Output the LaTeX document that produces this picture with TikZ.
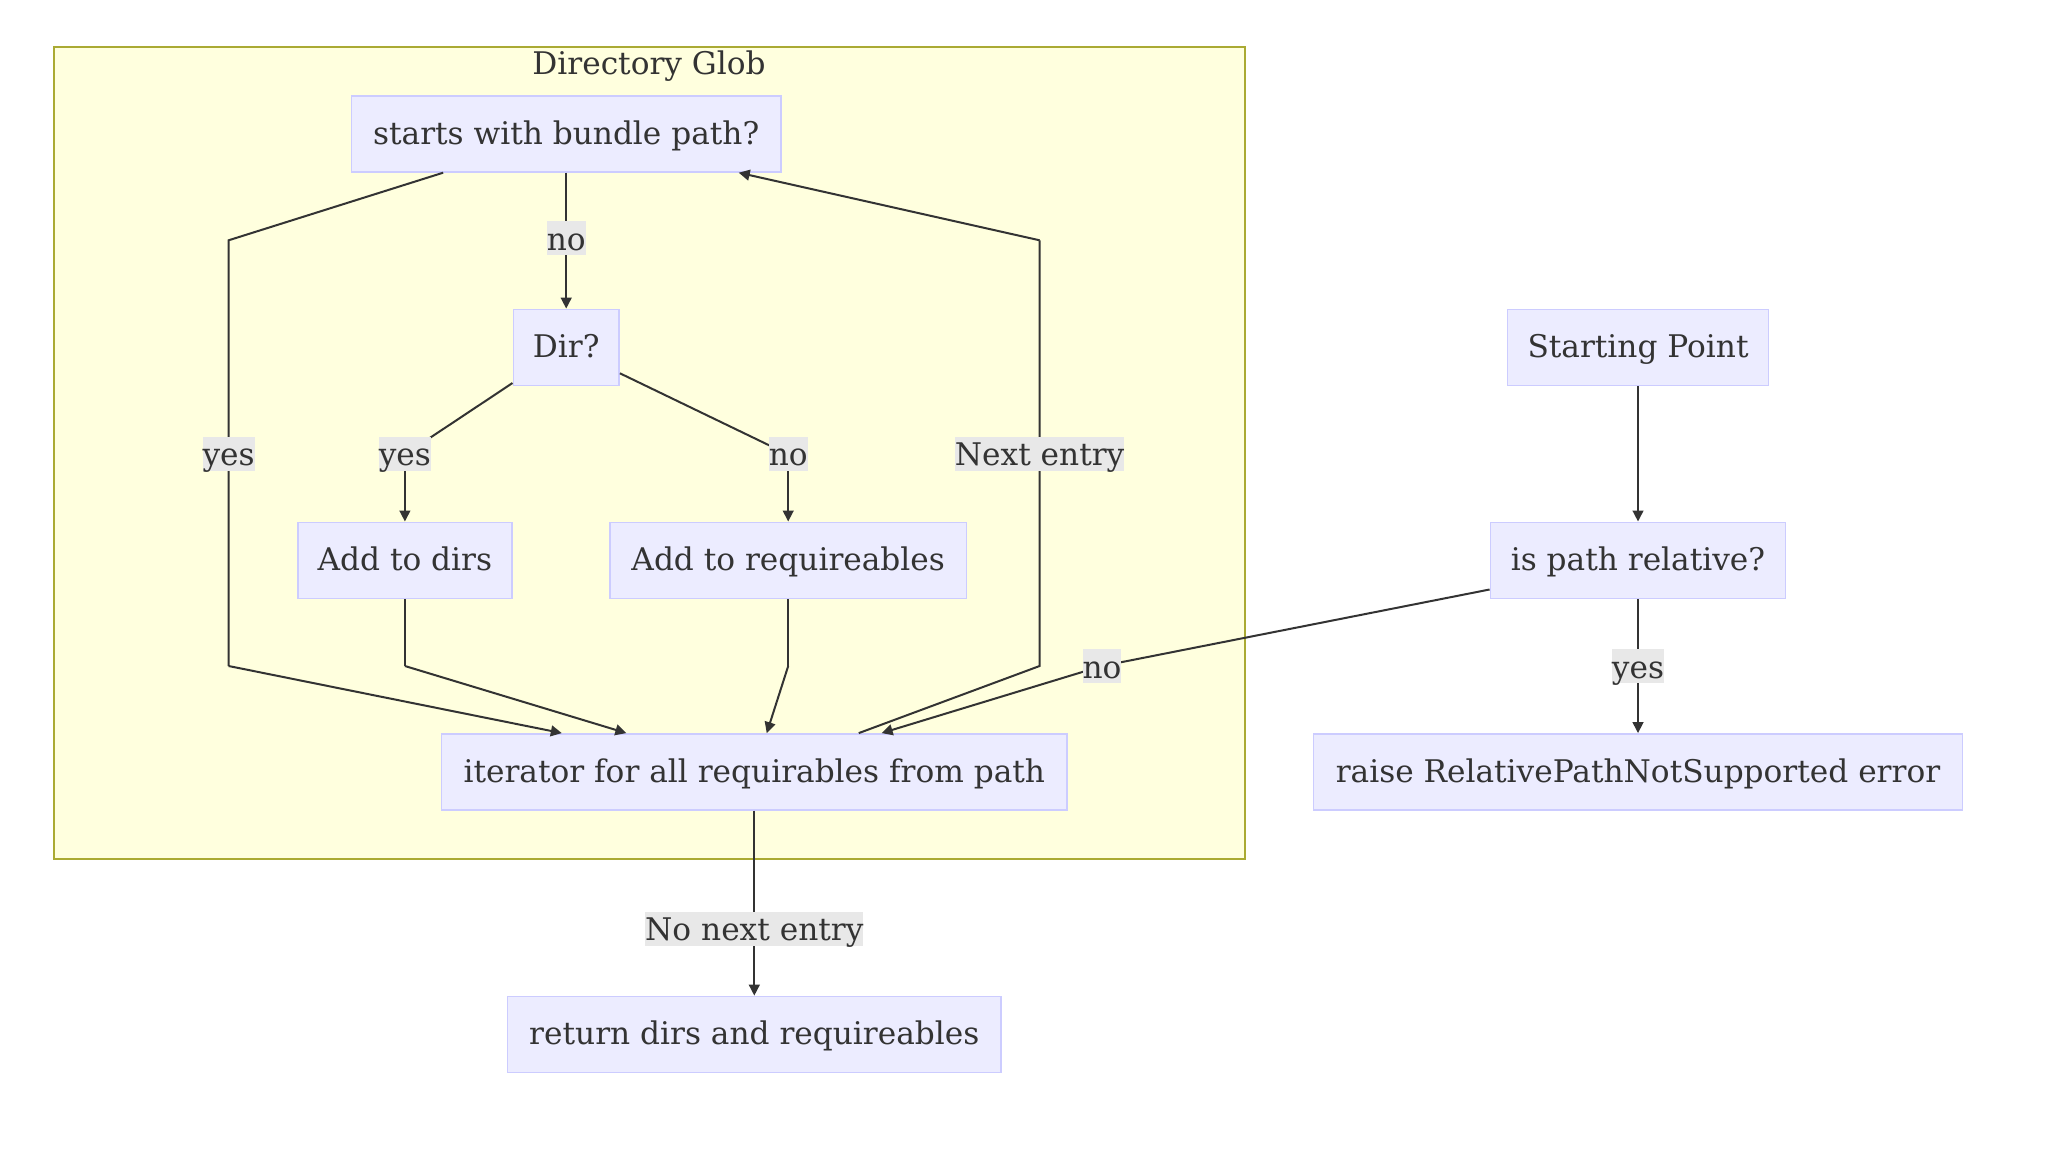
\documentclass[tikz,border=0pt]{standalone}
\usepackage{fontspec}
\setmainfont{DejaVu Serif}
\usetikzlibrary{arrows.meta}
\definecolor{nodefill}{HTML}{ECECFF}
\definecolor{nodeline}{HTML}{CCCCFF}
\definecolor{clusterfill}{HTML}{FFFFDE}
\definecolor{clusterline}{HTML}{AAAA33}
\definecolor{labelfill}{HTML}{E8E8E8}
\definecolor{txt}{HTML}{333333}
\definecolor{edgecol}{HTML}{333333}
\begin{document}
\begin{tikzpicture}[x=0.5pt,y=-0.5pt,
  font=\fontsize{15.6}{18}\selectfont,
  box/.style={draw=nodeline,fill=nodefill,line width=0.8pt,text=txt,
    minimum height=38pt,inner xsep=2pt,inner ysep=0pt,
    text height=13pt,text depth=2.5pt},
  elabel/.style={fill=labelfill,text=txt,inner xsep=0pt,inner ysep=0pt,
    text height=14.6pt,text depth=2.4pt},
  flow/.style={draw=edgecol,line width=1pt,-{Triangle[length=5.5pt,width=5.4pt]}},
  plain/.style={draw=edgecol,line width=1pt}]
\useasboundingbox (0,0) rectangle (2048,1160);
% cluster
\node[draw=clusterline,fill=clusterfill,line width=1pt,minimum width=595.6pt,
  minimum height=406.2pt,inner sep=0pt] (cluster) at (649.1,453.2) {};
\node[text=txt,inner sep=0pt,text height=13pt,text depth=2.5pt] (ctitle) at (649,64.5) {Directory Glob};
% nodes
\node[box,minimum width=214.85pt] (A) at (566.2,133.9) {starts with bundle path?};
\node[box,minimum width=52.9pt] (dir) at (566.2,347.4) {Dir?};
\node[box,minimum width=107.1pt] (adddirs) at (404.9,560.3) {Add to dirs};
\node[box,minimum width=178.3pt] (addreq) at (788.2,560.3) {Add to requireables};
\node[box,minimum width=312.8pt] (iter) at (754.3,771.9) {iterator for all requirables from path};
\node[box,minimum width=246.85pt] (ret) at (754.3,1034.4) {return dirs and requireables};
\node[box,minimum width=130.6pt] (start) at (1638,347.4) {Starting Point};
\node[box,minimum width=147.6pt] (rel) at (1638,560.3) {is path relative?};
\node[box,minimum width=324.5pt] (raise) at (1638,771.9) {raise RelativePathNotSupported error};
% bend coordinates
\coordinate (y1) at (228.6,240.3);
\coordinate (y2) at (228.6,666);
\coordinate (dy) at (404.9,454.5);
\coordinate (d2) at (404.9,666);
\coordinate (dn) at (788.2,454.5);
\coordinate (r2) at (788.2,666);
\coordinate (n1) at (1039.6,666);
\coordinate (n2) at (1039.6,240.3);
\coordinate (pn) at (1102,666);
% edges
\draw[plain] (A) -- (y1) -- (y2);
\draw[flow] (y2) -- (iter);
\draw[flow] (A) -- (dir);
\draw[plain] (dir) -- (dy);
\draw[flow] (dy) -- (adddirs);
\draw[plain] (dir) -- (dn);
\draw[flow] (dn) -- (addreq);
\draw[plain] (adddirs) -- (d2);
\draw[flow] (d2) -- (iter);
\draw[plain] (addreq) -- (r2);
\draw[flow] (r2) -- (iter);
\draw[plain] (iter) -- (n1) -- (n2);
\draw[flow] (n2) -- (A);
\draw[flow] (start) -- (rel);
\draw[plain] (rel) -- (pn);
\draw[flow] (pn) -- (iter);
\draw[flow] (rel) -- (raise);
\draw[flow] (iter) -- (ret);
% edge labels
\node[elabel] (l1) at (228.6,453.5) {yes};
\node[elabel] (l2) at (566.2,238.5) {no};
\node[elabel] (l3) at (404.9,453.5) {yes};
\node[elabel] (l4) at (788.2,453.5) {no};
\node[elabel] (l5) at (1039.6,453.5) {Next entry};
\node[elabel] (l6) at (1102,666) {no};
\node[elabel] (l7) at (1638,666) {yes};
\node[elabel] (l8) at (754.3,928.6) {No next entry};
\end{tikzpicture}
\end{document}
